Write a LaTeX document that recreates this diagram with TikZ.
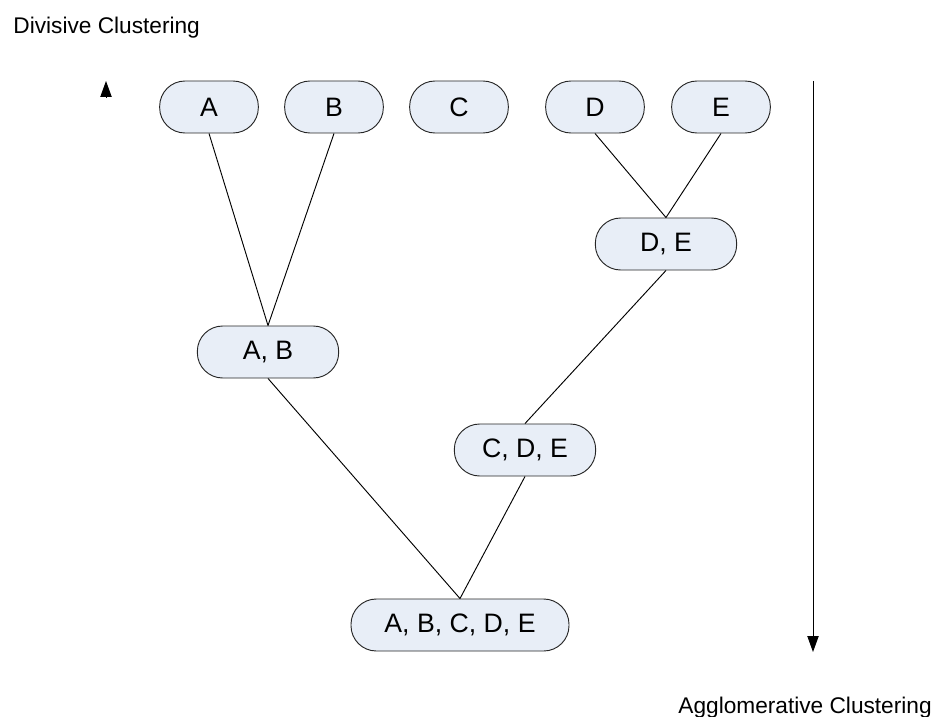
\documentclass[tikz,border=0pt]{standalone}
\usepackage{fontspec}
\setmainfont{Liberation Sans}
\usetikzlibrary{arrows.meta, positioning}
\definecolor{clusterfill}{RGB}{232,238,247}

\begin{document}
\begin{tikzpicture}[x=0.75pt, y=-0.75pt, node distance=93.75pt, line width=0.7pt,
  cluster/.style={draw=black!85, fill=clusterfill, rounded corners=19pt, minimum height=39pt, inner sep=0pt, font=\fontsize{20}{23}\selectfont},
  leaf/.style={cluster, minimum width=74pt},
  merged/.style={cluster, minimum width=106pt},
  axis/.style={-{Triangle[width=8.5pt,length=12pt]}},
  caption/.style={anchor=base west, inner sep=0pt, font=\fontsize{17}{20}\selectfont}]
\useasboundingbox (0,0) rectangle (936,717);

\node[leaf] (a) at (209,107) {A};
\node[leaf, right of = a] (b) {B};
\node[leaf, right of = b] (c) {C};
\node[leaf] (d) at (595,107) {D};
\node[leaf, right of = d, node distance=94.5pt] (e) {E};

\node[merged] (de) at (666,244) {D, E};
\node[merged] (ab) at (268,352) {A, B};
\node[merged] (cde) at (525,450) {C, D, E};
\node[cluster, minimum width=163.5pt] (abcde) at (460,625) {A, B, C, D, E};

\draw (a.south) -- (ab.north);
\draw (b.south) -- (ab.north);
\draw (d.south) -- (de.north);
\draw (e.south) -- (de.north);
\draw (de.south) -- (cde.north);
\draw (ab.south) -- (abcde.north);
\draw (cde.south) -- (abcde.north);

% direction of the two procedures
\coordinate (split tail) at (106,97);
\coordinate (split tip) at (106,81);
\draw[axis] (split tail) -- (split tip);
\coordinate (merge tail) at (813,81);
\coordinate (merge tip) at (813,652);
\draw[axis] (merge tail) -- (merge tip);

\node[caption] (divisive) at (13,34) {Divisive Clustering};
\node[caption] (agglomerative) at (678,713) {Agglomerative Clustering};
\end{tikzpicture}
\end{document}
